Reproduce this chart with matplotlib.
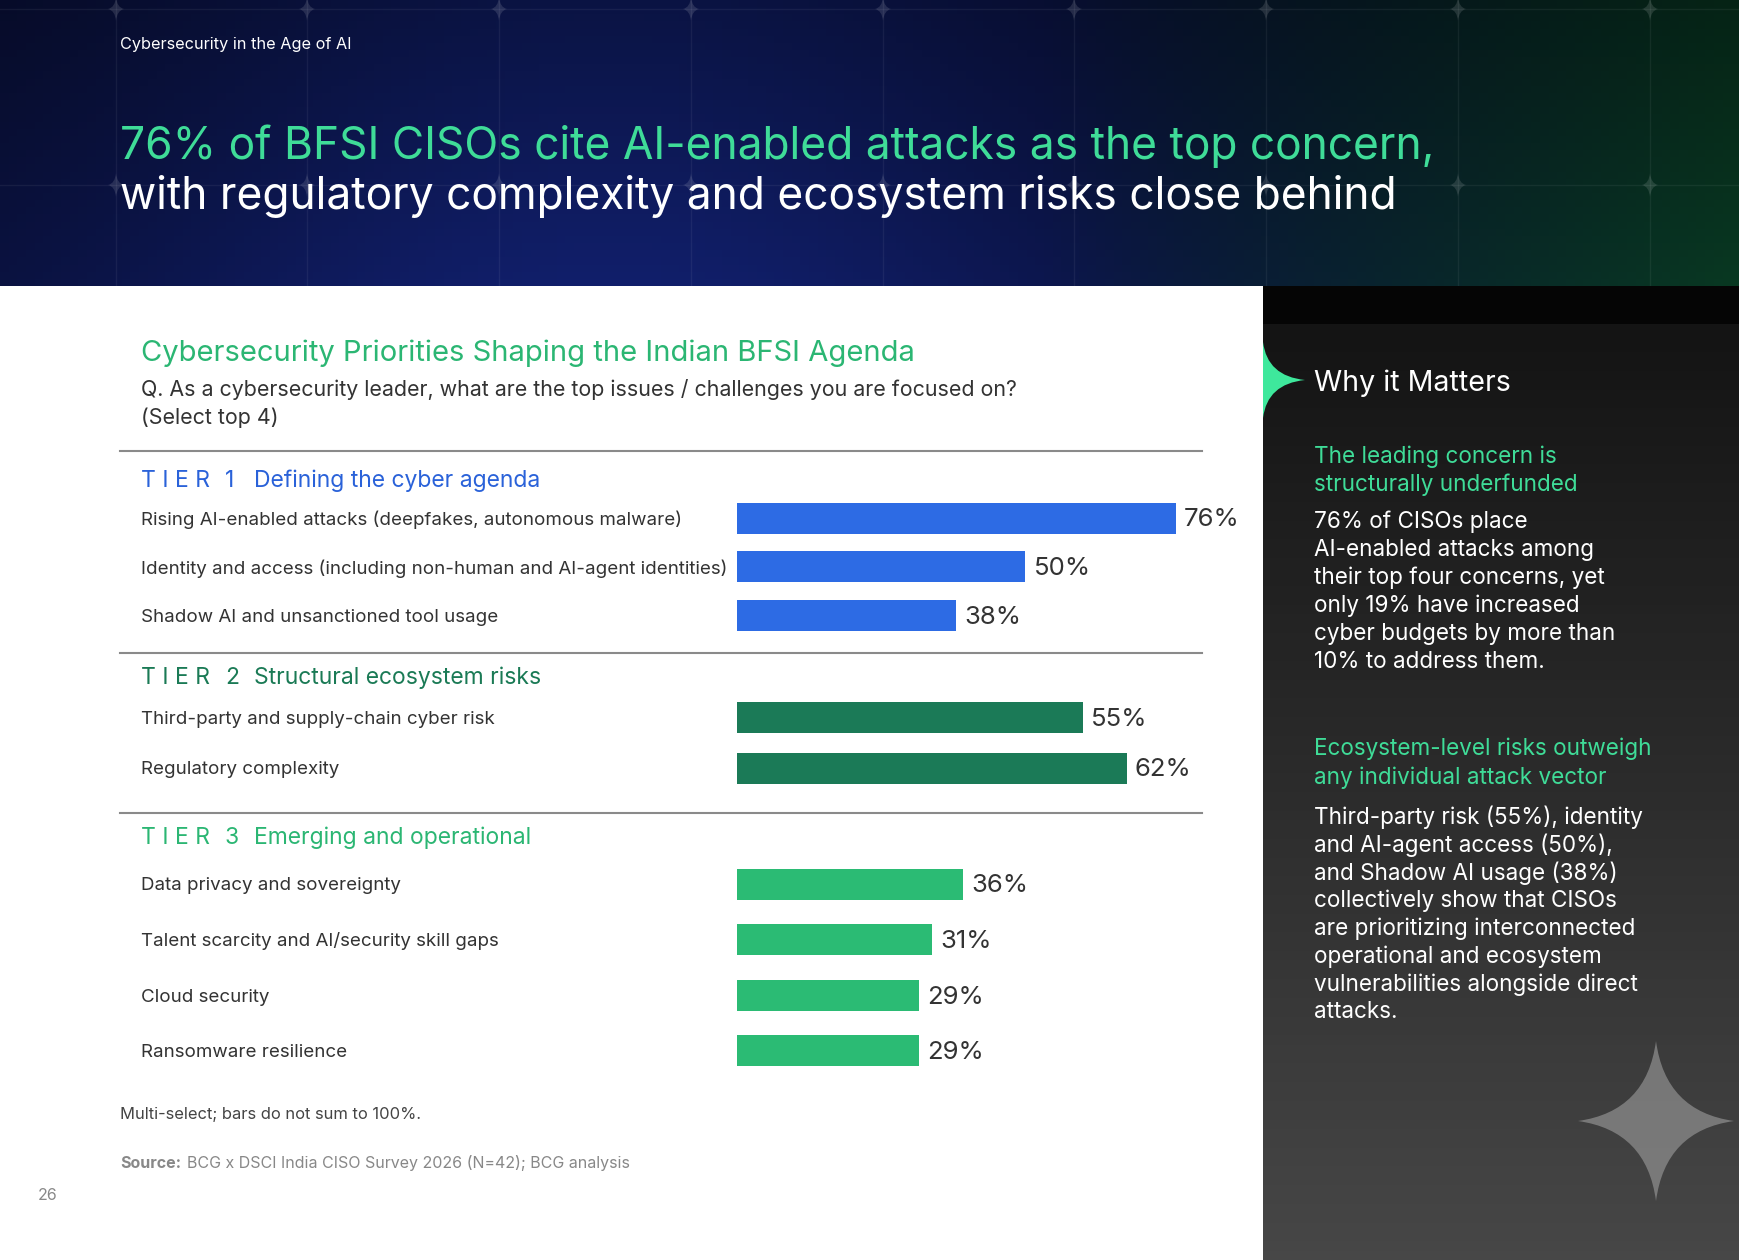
import numpy as np
import matplotlib
matplotlib.use("Agg")
import matplotlib.pyplot as plt
from matplotlib.patches import Rectangle, PathPatch
from matplotlib.path import Path
from matplotlib.colors import LinearSegmentedColormap

plt.rcParams["font.family"] = ["Inter", "DejaVu Sans"]

# data
tier_names = ["Defining the cyber agenda", "Structural ecosystem risks", "Emerging and operational"]
tier1_labels = [
    "Rising AI-enabled attacks (deepfakes, autonomous malware)",
    "Identity and access (including non-human and AI-agent identities)",
    "Shadow AI and unsanctioned tool usage",
]
tier1_values = [76, 50, 38]
tier2_labels = ["Third-party and supply-chain cyber risk", "Regulatory complexity"]
tier2_values = [55, 62]
tier3_labels = [
    "Data privacy and sovereignty",
    "Talent scarcity and AI/security skill gaps",
    "Cloud security",
    "Ransomware resilience",
]
tier3_values = [36, 31, 29, 29]

why_head1 = ["The leading concern is", "structurally underfunded"]
why_body1 = [
    "76% of CISOs place",
    "AI-enabled attacks among",
    "their top four concerns, yet",
    "only 19% have increased",
    "cyber budgets by more than",
    "10% to address them.",
]
why_head2 = ["Ecosystem-level risks outweigh", "any individual attack vector"]
why_body2 = [
    "Third-party risk (55%), identity",
    "and AI-agent access (50%),",
    "and Shadow AI usage (38%)",
    "collectively show that CISOs",
    "are prioritizing interconnected",
    "operational and ecosystem",
    "vulnerabilities alongside direct",
    "attacks.",
]

W, H = 1740, 1260
fig = plt.figure(figsize=(W / 100, H / 100), dpi=100)
ax = fig.add_axes([0, 0, 1, 1])
ax.set_xlim(0, W)
ax.set_ylim(H, 0)
ax.axis("off")

# header background gradient
nx, ny = 200, 40
gx = np.linspace(0, 1, nx)[None, :]
gy = np.linspace(0, 1, ny)[:, None]
navy = np.array([0.03, 0.05, 0.18])
blue = np.array([0.06, 0.11, 0.38])
green = np.array([0.03, 0.20, 0.12])
mid = np.exp(-((gx - 0.35) / 0.3) ** 2)
rgb = navy[None, None, :] * (1 - mid[..., None]) + blue[None, None, :] * mid[..., None]
gw = np.clip((gx - 0.6) / 0.4, 0, 1)[..., None]
rgb = rgb * (1 - gw) + green[None, None, :] * gw
rgb = rgb * (0.7 + 0.4 * gy[..., None])
rgb = np.clip(np.broadcast_to(rgb, (ny, nx, 3)), 0, 1)
ax.imshow(rgb, extent=[0, W, 286, 0], aspect="auto", zorder=0)

# header grid decoration
grid_x = [116, 307, 499, 691, 883, 1074, 1266, 1458, 1650]
grid_y = [9, 185]
for gxp in grid_x:
    ax.plot([gxp, gxp], [0, 286], color="white", alpha=0.06, lw=1, zorder=1)
for gyp in grid_y:
    ax.plot([0, W], [gyp, gyp], color="white", alpha=0.06, lw=1, zorder=1)


def star(cx, cy, rx, ry, k=0.12):
    verts = [
        (cx + rx, cy), (cx + k * rx, cy + k * ry), (cx, cy + ry),
        (cx - k * rx, cy + k * ry), (cx - rx, cy),
        (cx - k * rx, cy - k * ry), (cx, cy - ry),
        (cx + k * rx, cy - k * ry), (cx + rx, cy),
    ]
    codes = [Path.MOVETO] + [Path.CURVE3] * 8
    return Path(verts, codes)


for gxp in grid_x:
    for gyp in grid_y:
        ax.add_patch(PathPatch(star(gxp, gyp, 8, 12), fc="white", ec="none", alpha=0.12, zorder=1))

# right panel
ax.add_patch(Rectangle((1263, 286), W - 1263, 38, fc="#050505", ec="none", zorder=1))
grey = LinearSegmentedColormap.from_list("g", ["#141414", "#2c2c2c", "#474747"])
ax.imshow(np.linspace(0, 1, 100)[:, None], cmap=grey, extent=[1263, W, H, 324],
          aspect="auto", zorder=1)
ax.add_patch(PathPatch(star(1263, 380, 42, 38, k=0.1), fc="#3ee89c", ec="none", zorder=2))
ax.add_patch(PathPatch(star(1656, 1121, 78, 80, k=0.12), fc="#8c8c8c", ec="none", alpha=0.75, zorder=2))

# white chart area
ax.add_patch(Rectangle((0, 286), 1263, H - 286, fc="white", ec="none", zorder=3))

# header texts
ax.text(120, 44, "Cybersecurity in the Age of AI", color="white", fontsize=11.7,
        va="center", zorder=4)
ax.text(120, 146, "76% of BFSI CISOs cite AI-enabled attacks as the top concern,",
        color="#3fdc98", fontsize=31.9, va="center", zorder=4)
ax.text(120, 196, "with regulatory complexity and ecosystem risks close behind",
        color="white", fontsize=31.9, va="center", zorder=4)

# chart title / question
ax.text(141, 353, "Cybersecurity Priorities Shaping the Indian BFSI Agenda",
        color="#2bb673", fontsize=21, va="center", zorder=4)
ax.text(141, 390, "Q. As a cybersecurity leader, what are the top issues / challenges you are focused on?",
        color="#333333", fontsize=15.4, va="center", zorder=4)
ax.text(141, 418, "(Select top 4)", color="#333333", fontsize=15.4, va="center", zorder=4)

for ly in [451, 653, 813]:
    ax.plot([120, 1202], [ly, ly], color="#8a8a8a", lw=1.5, zorder=4)

# bars: each tier gets its own percent axis (the page scales tier 1 differently)
bx0 = 737
tiers = [
    (tier1_labels, tier1_values, "#2d6be4", "#2a62d9", 481, 518, 48.5, 5.77),
    (tier2_labels, tier2_values, "#1b7a57", "#1a7a55", 678, 717, 51, 6.29),
    (tier3_labels, tier3_values, "#2bbb74", "#2bb673", 838, 884, 55.5, 6.29),
]
for i, (labels, values, bar_c, head_c, head_y, y0, step, px_pct) in enumerate(tiers):
    bax = fig.add_axes([bx0 / W, 0, 100 * px_pct / W, 1])
    bax.set_xlim(0, 100)
    bax.set_ylim(H, 0)
    bax.axis("off")
    bax.patch.set_alpha(0)

    ax.text(141, head_y, "T I E R", color=head_c, fontsize=16.5, va="center", zorder=4)
    ax.text(225, head_y, str(i + 1), color=head_c, fontsize=16.5, va="center", zorder=4)
    ax.text(254, head_y, tier_names[i], color=head_c, fontsize=16.5, va="center", zorder=4)
    ys = [y0 + j * step for j in range(len(values))]
    bax.barh(ys, values, height=31, color=bar_c, zorder=2)
    for y, lab, v in zip(ys, labels, values):
        ax.text(141, y + 2, lab, color="#333333", fontsize=13.5, va="center", zorder=4)
        bax.text(v + 8 / px_pct, y + 2, f"{v}%", color="#333333", fontsize=18.5, va="center")

# notes
ax.text(120, 1115, "Multi-select; bars do not sum to 100%.", color="#444444",
        fontsize=11.9, va="center", zorder=4)
ax.text(120, 1163, "Source:", color="#888888", fontsize=11.5, fontweight="bold",
        va="center", zorder=4)
ax.text(187, 1163, "BCG x DSCI India CISO Survey 2026 (N=42); BCG analysis",
        color="#888888", fontsize=11.5, va="center", zorder=4)
ax.text(38, 1195, "26", color="#888888", fontsize=11.5, va="center", zorder=4)

# why it matters panel
ax.text(1314, 383, "Why it Matters", color="white", fontsize=20.6, va="center", zorder=4)
for k, line in enumerate(why_head1):
    ax.text(1314, 457 + 28 * k, line, color="#3fdc98", fontsize=16.2, va="center", zorder=4)
for k, line in enumerate(why_body1):
    ax.text(1314, 522 + 27.9 * k, line, color="white", fontsize=16.2, va="center", zorder=4)
for k, line in enumerate(why_head2):
    ax.text(1314, 749 + 28.5 * k, line, color="#3fdc98", fontsize=16.2, va="center", zorder=4)
for k, line in enumerate(why_body2):
    ax.text(1314, 817 + 27.9 * k, line, color="white", fontsize=16.2, va="center", zorder=4)

fig.savefig("out.png", dpi=100)
